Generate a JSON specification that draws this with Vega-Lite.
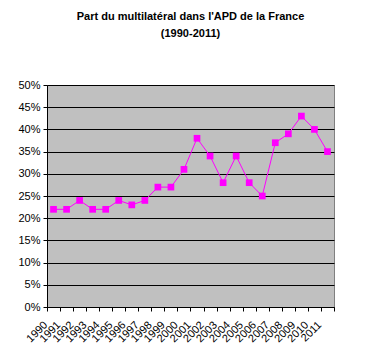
{
  "$schema": "https://vega.github.io/schema/vega-lite/v6.json",
  "autosize": "none",
  "width": 287,
  "height": 222,
  "padding": {"left": 47, "top": 85, "right": 44, "bottom": 55},
  "background": "white",
  "title": {
    "text": ["Part du multilatéral dans l'APD de la France", "(1990-2011)"],
    "font": "Liberation Sans",
    "fontSize": 11,
    "fontWeight": "bold",
    "color": "black",
    "lineHeight": 17,
    "anchor": "middle",
    "offset": 40
  },
  "config": {
    "view": {"stroke": "#808080", "strokeWidth": 1, "fill": "#C0C0C0"},
    "axis": {"labelFont": "Liberation Sans", "labelColor": "black", "domainColor": "black", "tickColor": "black", "labelFontSize": 11}
  },
  "data": {
    "values": [
      {"year": "1990", "share": 0.22},
      {"year": "1991", "share": 0.22},
      {"year": "1992", "share": 0.24},
      {"year": "1993", "share": 0.22},
      {"year": "1994", "share": 0.22},
      {"year": "1995", "share": 0.24},
      {"year": "1996", "share": 0.23},
      {"year": "1997", "share": 0.24},
      {"year": "1998", "share": 0.27},
      {"year": "1999", "share": 0.27},
      {"year": "2000", "share": 0.31},
      {"year": "2001", "share": 0.38},
      {"year": "2002", "share": 0.34},
      {"year": "2003", "share": 0.28},
      {"year": "2004", "share": 0.34},
      {"year": "2005", "share": 0.28},
      {"year": "2006", "share": 0.25},
      {"year": "2007", "share": 0.37},
      {"year": "2008", "share": 0.39},
      {"year": "2009", "share": 0.43},
      {"year": "2010", "share": 0.40},
      {"year": "2011", "share": 0.35}
    ]
  },
  "encoding": {
    "x": {
      "field": "year",
      "type": "ordinal",
      "scale": {"type": "band", "paddingInner": 0, "paddingOuter": 0},
      "axis": {
        "title": null,
        "labelAngle": -45,
        "labelAlign": "right",
        "labelBaseline": "middle",
        "labelPadding": 12,
        "labelOffset": -8,
        "tickBand": "extent",
        "tickSize": 4,
        "labelOverlap": false,
        "grid": false
      }
    },
    "y": {
      "field": "share",
      "type": "quantitative",
      "scale": {"domain": [0, 0.5], "nice": false},
      "axis": {
        "title": null,
        "values": [0, 0.05, 0.1, 0.15, 0.2, 0.25, 0.3, 0.35, 0.4, 0.45, 0.5],
        "format": ".0%",
        "grid": true,
        "gridColor": "black",
        "gridOpacity": 1,
        "gridWidth": 1,
        "tickSize": 4,
        "labelPadding": 3
      }
    }
  },
  "layer": [
    {"mark": {"type": "line", "color": "#FF00FF", "strokeWidth": 1}},
    {"mark": {"type": "point", "shape": "square", "filled": true, "color": "#FF00FF", "size": 45, "opacity": 1}}
  ]
}
